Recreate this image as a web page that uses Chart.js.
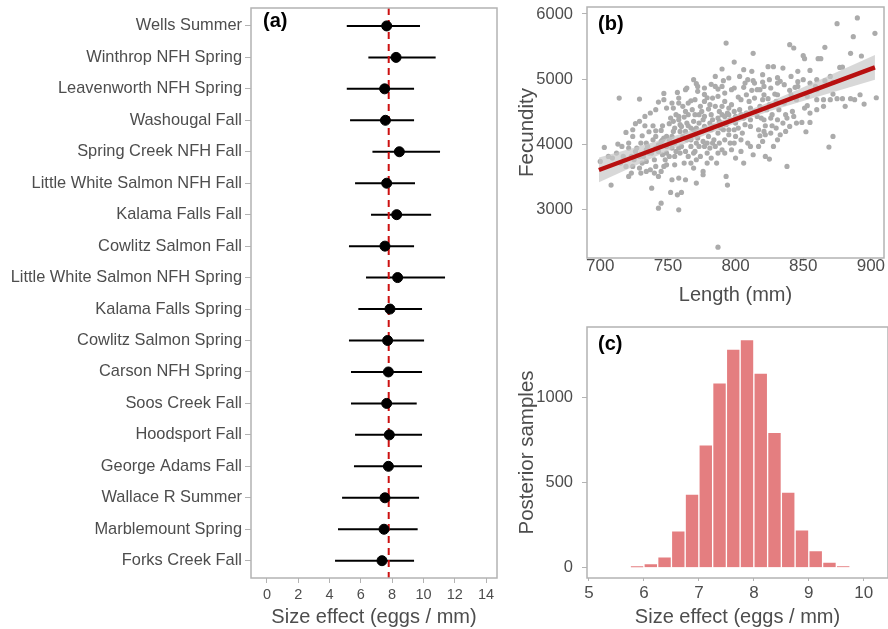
<!DOCTYPE html>
<html>
<head>
<meta charset="utf-8">
<script src="https://cdn.jsdelivr.net/npm/chart.js@4.4.1/dist/chart.umd.min.js"></script>
<style>
  html, body { margin: 0; padding: 0; background: #fff; }
  #wrap { position: relative; width: 888px; height: 629px; overflow: hidden; }
  .panel { position: absolute; }
</style>
</head>
<body>
<div id="wrap">
  <div class="panel" style="left:0;top:0;width:505px;height:629px"><canvas id="chartA" width="505" height="629"></canvas></div>
  <div class="panel" style="left:505px;top:0;width:383px;height:312px"><canvas id="chartB" width="383" height="312"></canvas></div>
  <div class="panel" style="left:505px;top:312px;width:383px;height:317px"><canvas id="chartC" width="383" height="317"></canvas></div>
</div>
<script>
// (a) size effect by population
const populations = ["Wells Summer", "Winthrop NFH Spring", "Leavenworth NFH Spring", "Washougal Fall",
  "Spring Creek NFH Fall", "Little White Salmon NFH Fall", "Kalama Falls Fall", "Cowlitz Salmon Fall",
  "Little White Salmon NFH Spring", "Kalama Falls Spring", "Cowlitz Salmon Spring", "Carson NFH Spring",
  "Soos Creek Fall", "Hoodsport Fall", "George Adams Fall", "Wallace R Summer", "Marblemount Spring",
  "Forks Creek Fall"];
const effectMean = [7.65, 8.25, 7.52, 7.57, 8.46, 7.65, 8.29, 7.54, 8.35, 7.86, 7.71, 7.76, 7.65, 7.82, 7.76, 7.54, 7.48, 7.35];
const effectLow = [5.1, 6.48, 5.1, 5.31, 6.74, 5.63, 6.65, 5.24, 6.33, 5.84, 5.24, 5.37, 5.37, 5.63, 5.56, 4.8, 4.54, 4.35];
const effectHigh = [9.78, 10.78, 9.4, 9.4, 11.06, 9.46, 10.49, 9.4, 11.38, 9.91, 10.04, 9.91, 9.57, 9.91, 9.91, 9.72, 9.63, 9.4];
const overallEffect = 7.78;
const effectTicks = [0, 2, 4, 6, 8, 10, 12, 14];

// (b) fecundity vs length
const lengthMm = [890, 875, 903, 887, 793, 840, 843, 866, 885, 893, 813, 850, 851, 861, 863, 799, 824, 828, 835, 855,
  790, 806, 812, 877, 879, 785, 803, 809, 831, 833, 813, 791, 769, 771, 782, 785, 787, 797, 806, 814,
  820, 831, 846, 846, 844, 859, 866, 872, 764, 772, 777, 779, 783, 802, 812, 818, 821, 824, 829, 831,
  840, 841, 860, 872, 875, 879, 885, 892, 888, 895, 904, 881, 714, 729, 743, 747, 757, 763, 767, 758,
  761, 749, 754, 756, 777, 780, 785, 788, 792, 797, 804, 810, 811, 818, 823, 827, 832, 837, 842, 851,
  853, 860, 843, 849, 855, 838, 830, 827, 822, 819, 811, 806, 800, 794, 790, 782, 775, 770, 765, 762,
  758, 751, 746, 745, 736, 731, 726, 719, 713, 703, 700, 708, 721, 723, 725, 727, 729, 734, 738, 740,
  741, 745, 748, 749, 749, 753, 753, 758, 760, 763, 767, 770, 771, 770, 769, 767, 763, 759, 754, 749,
  746, 775, 780, 783, 784, 787, 791, 795, 796, 792, 790, 800, 804, 806, 813, 822, 825, 828, 818, 822,
  811, 805, 799, 838, 852, 872, 869, 724, 730, 721, 717, 715, 719, 724, 729, 730, 734, 737, 740, 743,
  753, 758, 763, 771, 776, 776, 769, 767, 771, 779, 786, 779, 793, 794, 738, 752, 757, 760, 745, 743,
  758, 787, 752, 754, 759, 764, 769, 773, 776, 781, 784, 788, 793, 796, 800, 803, 795, 790, 781, 774,
  770, 765, 787, 792, 808, 814, 820, 747, 743, 739, 735, 732, 734, 731, 743, 746, 751, 755, 756, 759,
  764, 767, 773, 776, 777, 781, 788, 797, 782, 774, 765, 762, 755, 749, 747, 811, 809, 817, 820, 831,
  833, 837, 817, 821, 826, 804, 800, 845, 840, 855, 865, 870, 865, 836, 845, 853, 855, 860, 870, 841,
  846, 820, 825, 795, 777, 772, 758, 753, 747, 741, 737, 733, 729, 733, 739, 741, 721, 709, 706, 712,
  758, 763, 768, 773, 777, 783, 787, 792, 795, 799, 804, 808, 814, 816, 821, 826, 831, 835, 755, 760,
  765, 771, 777, 782, 789, 795, 802, 807, 741, 745, 751, 755, 761, 767, 772, 779, 785, 792, 799, 736,
  741, 753, 758, 769, 787, 726, 723, 734, 724, 716, 816, 807, 799, 790, 821, 826, 836, 850, 855, 860,
  830, 825];
const fecundity = [5939, 5852, 5703, 5652, 5555, 5530, 5479, 5489, 5397, 5356, 5397, 5361, 5315, 5315, 5315, 5264, 5193, 5193, 5172, 5136,
  5157, 5147, 5121, 5182, 5187, 5044, 5044, 4993, 5024, 4968, 4978, 4978, 4993, 4932, 4922, 4891, 4850, 4840, 4876, 4942,
  4958, 4942, 4963, 4891, 4876, 4891, 4978, 4952, 4866, 4815, 4768, 4717, 4712, 4727, 4830, 4840, 4763, 4702, 4773, 4763,
  4830, 4763, 4687, 4773, 4702, 4702, 4702, 4763, 4687, 4620, 4717, 4585, 4712, 4697, 4651, 4783, 4799, 4840, 4671, 4636,
  4585, 4559, 4559, 4457, 4661, 4544, 4585, 4508, 4661, 4610, 4687, 4661, 4559, 4585, 4534, 4457, 4534, 4457, 4508, 4559,
  4595, 4534, 4431, 4339, 4339, 4406, 4252, 4288, 4288, 4406, 4380, 4406, 4431, 4482, 4457, 4457, 4508, 4457, 4457, 4421,
  4380, 4319, 4288, 4217, 4196, 4135, 4319, 4186, 4007, 3956, 3741, 3379, 3512, 3563, 3767, 3946, 3818, 3920, 3869, 3767,
  3665, 3588, 3767, 3869, 3971, 4022, 4124, 4073, 3971, 3895, 3971, 3895, 4022, 4150, 4227, 4252, 4201, 4201, 4201, 4124,
  4073, 4201, 4124, 4022, 4073, 4176, 4227, 4150, 4022, 3869, 3920, 3793, 3895, 3716, 3844, 3818, 3777, 3971, 4135, 4150,
  4278, 4176, 4227, 3665, 4196, 4124, 3961, 4124, 4022, 3946, 3818, 3716, 3665, 3665, 3639, 3563, 3588, 3614, 3563, 3512,
  3461, 3486, 3461, 3409, 3588, 3537, 3639, 3716, 3767, 3716, 3716, 3869, 3512, 3379, 3332, 3266, 3230, 3266, 3102, 3026,
  3000, 2428, 4406, 4355, 4304, 4329, 4355, 4329, 4380, 4329, 4278, 4355, 4304, 4380, 4329, 4534, 4559, 4585, 4610, 4585,
  4687, 4636, 4738, 4789, 4763, 4712, 4687, 4099, 3997, 4073, 3971, 3818, 3741, 3716, 3895, 3844, 3818, 3818, 3895, 3869,
  4073, 4073, 3971, 4048, 3971, 3946, 4022, 3920, 3793, 3818, 3818, 3716, 3690, 3690, 3665, 3971, 4022, 3971, 4048, 4073,
  4150, 4201, 4227, 4201, 4176, 4073, 4124, 4329, 4278, 4482, 4585, 4687, 4687, 4636, 4687, 4738, 4815, 4840, 5044, 5044,
  5121, 5070, 4993, 5019, 4866, 4891, 4712, 4636, 4687, 4534, 4483, 4431, 4355, 4288, 4288, 4211, 4022, 3793, 3818, 3869,
  4431, 4508, 4534, 4457, 4431, 4380, 4406, 4431, 4457, 4508, 4457, 4482, 4508, 4431, 4380, 4406, 4380, 4329, 4252, 4278,
  4288, 4252, 4278, 4227, 4252, 4227, 4252, 4304, 4124, 4048, 4073, 4022, 4124, 4124, 4099, 4022, 3971, 4073, 4022, 3869,
  3946, 3946, 3946, 3869, 3869, 3895, 3818, 4022, 4227, 3971, 4840, 4942, 4866, 4891, 4891, 4866, 4917, 4993, 4942, 4993,
  4661, 4610];
const fitX = [699, 903];
const fitY = [3610, 5181];
const bandX = [699, 725, 750, 775, 800, 825, 850, 875, 903];
const bandUpper = [3800, 3949, 4102, 4265, 4447, 4650, 4878, 5111, 5371];
const bandLower = [3420, 3669, 3902, 4125, 4327, 4510, 4668, 4821, 4991];
const lengthTicks = [700, 750, 800, 850, 900];
const fecundityTicks = [3000, 4000, 5000, 6000];

// (c) posterior of the size effect
const binCenters = [5.875, 6.125, 6.375, 6.625, 6.875, 7.125, 7.375, 7.625, 7.875, 8.125, 8.375, 8.625, 8.875, 9.125, 9.375, 9.625];
const binCounts = [12, 25, 64, 217, 432, 721, 1084, 1281, 1338, 1141, 793, 443, 223, 100, 33, 10];
const effectTicksC = [5, 6, 7, 8, 9, 10];
const countTicks = [0, 500, 1000];

const FONT = '"Liberation Sans", Arial, Helvetica, sans-serif';
const TEXT = '#4d4d4d';
const FRAME = '#b3b3b3';
Chart.defaults.font.family = FONT;
Chart.defaults.color = TEXT;
Chart.defaults.animation = false;

// grey panel frame + (a)/(b)/(c) tag
const framePlugin = {
  id: 'frame',
  afterDraw(chart, args, opts) {
    const { ctx, chartArea: a } = chart;
    ctx.save();
    ctx.strokeStyle = FRAME;
    ctx.lineWidth = 1.5;
    ctx.strokeRect(a.left, a.top, a.right - a.left, a.bottom - a.top);
    ctx.fillStyle = '#000';
    ctx.font = 'bold 20px ' + FONT;
    ctx.textBaseline = 'middle';
    ctx.fillText(opts.tag, a.left + opts.dx, a.top + opts.dy);
    ctx.restore();
  }
};

function fixedTicks(values) {
  return scale => { scale.ticks = values.map(v => ({ value: v })); };
}

// fixed axis box, no extra room for edge labels
function fixSize(w, h) {
  return s => {
    if (w) s.width = w;
    if (h) s.height = h;
    s.paddingTop = 0; s.paddingBottom = 0; s.paddingLeft = 0; s.paddingRight = 0;
  };
}

function tickGrid(len) {
  return { display: true, drawOnChartArea: false, drawTicks: true, tickLength: len, color: FRAME, lineWidth: 1, offset: false };
}

// ---- panel (a) ----
const rows = populations.map((p, i) => i + 1);
const intervalSets = populations.map((p, i) => ({
  type: 'line',
  data: [{ x: effectLow[i], y: rows[i] }, { x: effectHigh[i], y: rows[i] }],
  borderColor: '#000',
  borderWidth: 2,
  pointRadius: 0
}));

new Chart(document.getElementById('chartA'), {
  type: 'scatter',
  data: {
    datasets: [
      {
        data: effectMean.map((m, i) => ({ x: m, y: rows[i] })),
        backgroundColor: '#000',
        borderColor: '#000',
        pointRadius: 5
      },
      {
        type: 'line',
        data: [{ x: overallEffect, y: 0.43 }, { x: overallEffect, y: 18.55 }],
        borderColor: '#cc1111',
        borderWidth: 2,
        borderDash: [7, 5],
        pointRadius: 0
      },
      ...intervalSets
    ]
  },
  options: {
    responsive: false,
    devicePixelRatio: 1,
    layout: { padding: { top: 8, right: 8, left: 0, bottom: 0 } },
    plugins: { legend: { display: false }, tooltip: { enabled: false }, frame: { tag: '(a)', dx: 12, dy: 13 } },
    scales: {
      x: {
        type: 'linear', min: -1.02, max: 14.7,
        afterBuildTicks: fixedTicks(effectTicks),
        afterFit: fixSize(0, 51),
        grid: tickGrid(5), border: { display: false },
        ticks: { font: { size: 14.5 }, padding: 3, color: TEXT },
        title: { display: true, text: 'Size effect (eggs / mm)', font: { size: 20 }, color: TEXT, padding: 0 }
      },
      y: {
        type: 'linear', reverse: true, min: 0.43, max: 18.55,
        afterBuildTicks: fixedTicks(rows),
        afterFit: fixSize(251, 0),
        grid: tickGrid(6), border: { display: false },
        ticks: { font: { size: 16.4 }, padding: 3, color: TEXT, callback: v => populations[v - 1] }
      }
    }
  },
  plugins: [framePlugin]
});

// ---- panel (b) ----
new Chart(document.getElementById('chartB'), {
  type: 'scatter',
  data: {
    datasets: [
      {
        type: 'line',
        data: fitX.map((x, i) => ({ x: x, y: fitY[i] })),
        borderColor: '#b81010',
        borderWidth: 4.5,
        pointRadius: 0
      },
      {
        type: 'line',
        data: bandX.map((x, i) => ({ x: x, y: bandUpper[i] })),
        borderWidth: 0,
        pointRadius: 0,
        backgroundColor: 'rgba(200,200,200,0.7)',
        fill: '+1'
      },
      {
        type: 'line',
        data: bandX.map((x, i) => ({ x: x, y: bandLower[i] })),
        borderWidth: 0,
        pointRadius: 0,
        fill: false
      },
      {
        data: lengthMm.map((x, i) => ({ x: x, y: fecundity[i] })),
        backgroundColor: '#ababab',
        borderWidth: 0,
        pointRadius: 2.6
      }
    ]
  },
  options: {
    responsive: false,
    devicePixelRatio: 1,
    layout: { padding: { top: 7, right: 0, left: 0, bottom: 0 } },
    plugins: { legend: { display: false }, tooltip: { enabled: false }, frame: { tag: '(b)', dx: 11, dy: 17 } },
    scales: {
      x: {
        type: 'linear', min: 690.2, max: 909.7,
        afterBuildTicks: fixedTicks(lengthTicks),
        afterFit: fixSize(0, 54),
        grid: tickGrid(3), border: { display: false },
        ticks: { font: { size: 17 }, padding: -5, color: TEXT, callback: v => String(v) },
        title: { display: true, text: 'Length (mm)', font: { size: 20 }, color: TEXT, padding: { top: 0, bottom: 5 } }
      },
      y: {
        type: 'linear', min: 2262, max: 6107,
        afterBuildTicks: fixedTicks(fecundityTicks),
        afterFit: fixSize(82, 0),
        grid: tickGrid(5), border: { display: false },
        ticks: { font: { size: 16.5 }, padding: 9, color: TEXT, callback: v => String(v) },
        title: { display: true, text: 'Fecundity', font: { size: 20.5 }, color: TEXT, padding: { top: 10, bottom: 0 } }
      }
    }
  },
  plugins: [framePlugin]
});

// ---- panel (c) ----
new Chart(document.getElementById('chartC'), {
  type: 'bar',
  data: {
    datasets: [{
      data: binCenters.map((c, i) => ({ x: c, y: binCounts[i] })),
      backgroundColor: '#e47e80',
      borderColor: '#ffffff',
      borderWidth: 1,
      barPercentage: 1,
      categoryPercentage: 1
    }]
  },
  options: {
    responsive: false,
    devicePixelRatio: 1,
    layout: { padding: { top: 15, right: 0, left: 0, bottom: 0 } },
    plugins: { legend: { display: false }, tooltip: { enabled: false }, frame: { tag: '(c)', dx: 11, dy: 17 } },
    scales: {
      x: {
        type: 'linear', min: 4.964, max: 10.44, offset: false,
        afterBuildTicks: fixedTicks(effectTicksC),
        afterFit: fixSize(0, 51),
        grid: tickGrid(3), border: { display: false },
        ticks: { font: { size: 17 }, padding: 2, color: TEXT },
        title: { display: true, text: 'Size effect (eggs / mm)', font: { size: 20 }, color: TEXT, padding: 0 }
      },
      y: {
        type: 'linear', min: -60, max: 1411,
        afterBuildTicks: fixedTicks(countTicks),
        afterFit: fixSize(82, 0),
        grid: tickGrid(5), border: { display: false },
        ticks: { font: { size: 16.5 }, padding: 9, color: TEXT, callback: v => String(v) },
        title: { display: true, text: 'Posterior samples', font: { size: 20.5 }, color: TEXT, padding: { top: 10, bottom: 0 } }
      }
    }
  },
  plugins: [framePlugin]
});
</script>
</body>
</html>
